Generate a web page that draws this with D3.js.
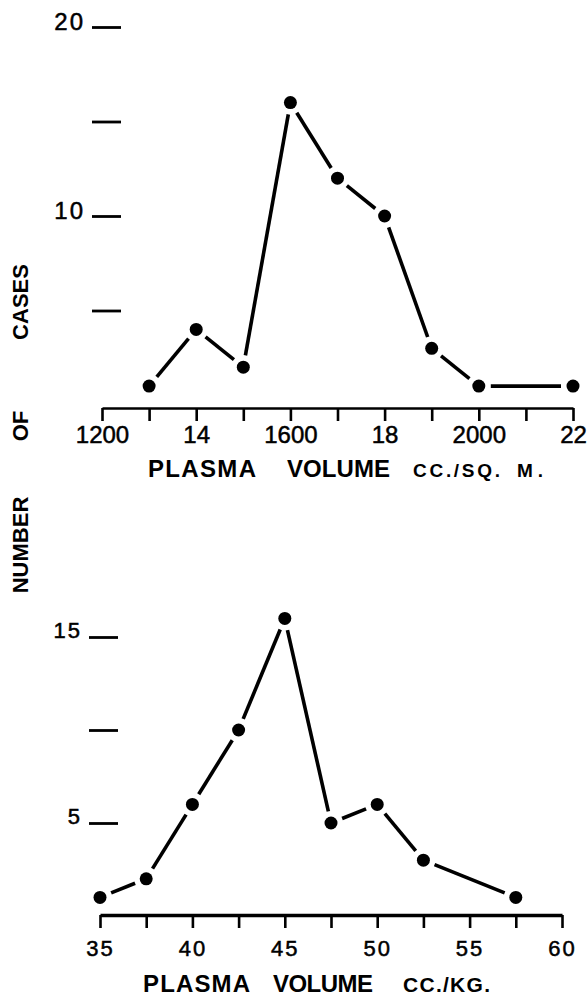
<!DOCTYPE html>
<html>
<head>
<meta charset="utf-8">
<script src="https://cdn.jsdelivr.net/npm/d3@7"></script>
<style>
  html, body { margin: 0; padding: 0; background: #fff; }
  svg { display: block; }
  text { font-family: "Liberation Sans", Arial, sans-serif; fill: #000; }
</style>
</head>
<body>
<svg id="chart" width="588" height="1002"></svg>
<script>
// ---------- DATA ----------
// Upper panel: plasma volume, cc./sq. m.
const topXValues = [1300, 1400, 1500, 1600, 1700, 1800, 1900, 2000, 2200];
const topCases   = [1, 4, 2, 16, 12, 10, 3, 1, 1];
const topXTickValues = [1200, 1300, 1400, 1500, 1600, 1700, 1800, 1900, 2000, 2100, 2200];
const topXTickLabels = ["1200", "", "14", "", "1600", "", "18", "", "2000", "", "22"];
const topYTickValues = [5, 10, 15, 20];
const topYTickLabels = ["", "10", "", "20"];

// Lower panel: plasma volume, cc./kg.
const botXValues = [35, 37.5, 40, 42.5, 45, 47.5, 50, 52.5, 57.5];
const botCases   = [1, 2, 6, 10, 16, 5, 6, 3, 1];
const botXTickValues = [35, 37.5, 40, 42.5, 45, 47.5, 50, 52.5, 55, 57.5, 60];
const botXTickLabels = ["35", "", "40", "", "45", "", "50", "", "55", "", "60"];
const botYTickValues = [5, 10, 15];
const botYTickLabels = ["5", "", "15"];

const yTitleWords = ["CASES", "OF", "NUMBER"];

// ---------- DRAWING ----------
const svg = d3.select("#chart");

function panel(cfg) {
  const x = d3.scaleLinear().domain(cfg.xDomain).range(cfg.xRange);
  const y = d3.scaleLinear().domain(cfg.yDomain).range(cfg.yRange);
  const g = svg.append("g");

  // x axis
  const xa = g.append("g")
    .attr("transform", `translate(0,${cfg.axisY})`)
    .call(d3.axisBottom(x)
      .tickValues(cfg.xTicks)
      .tickSizeInner(13)
      .tickSizeOuter(0)
      .tickPadding(cfg.xPad)
      .tickFormat((d, i) => cfg.xLabels[i]));
  xa.select(".domain").attr("stroke", "#000").attr("stroke-width", cfg.domainW);
  xa.selectAll(".tick line").attr("stroke", "#000").attr("stroke-width", 2.6);
  xa.selectAll(".tick text")
    .attr("font-size", cfg.xFont)
    .attr("letter-spacing", cfg.xLS)
    .attr("stroke", "#000").attr("stroke-width", 0.5)
    .attr("fill", "#000");

  // y axis (tick marks only, no spine)
  const ya = g.append("g")
    .attr("transform", `translate(${cfg.yAxisX},0)`)
    .call(d3.axisLeft(y)
      .tickValues(cfg.yTicks)
      .tickSizeInner(29)
      .tickSizeOuter(0)
      .tickPadding(7)
      .tickFormat((d, i) => cfg.yLabels[i]));
  ya.select(".domain").remove();
  ya.selectAll(".tick line").attr("stroke", "#000").attr("stroke-width", 2.8);
  ya.selectAll(".tick text")
    .attr("font-size", cfg.yFont)
    .attr("letter-spacing", 2)
    .attr("dy", 0)
    .attr("y", cfg.yLabelShift)
    .attr("stroke", "#000").attr("stroke-width", 0.5)
    .attr("fill", "#000");

  // line segments with small gaps near the dots
  const pts = cfg.xs.map((v, i) => [x(v), y(cfg.ys[i])]);
  const gap = 12;
  const segs = d3.pairs(pts).map(([a, b]) => {
    const dx = b[0] - a[0], dy = b[1] - a[1];
    const len = Math.hypot(dx, dy);
    const ux = dx / len, uy = dy / len;
    return [a[0] + ux * gap, a[1] + uy * gap, b[0] - ux * gap, b[1] - uy * gap];
  });
  g.selectAll("line.seg").data(segs).join("line")
    .attr("class", "seg")
    .attr("x1", d => d[0]).attr("y1", d => d[1])
    .attr("x2", d => d[2]).attr("y2", d => d[3])
    .attr("stroke", "#000").attr("stroke-width", 3.6);

  g.selectAll("circle.pt").data(pts).join("circle")
    .attr("class", "pt")
    .attr("cx", d => d[0]).attr("cy", d => d[1])
    .attr("r", 6.5).attr("fill", "#000");

  // x title pieces
  cfg.title.forEach(t => {
    g.append("text")
      .attr("x", t.x).attr("y", cfg.titleY)
      .attr("font-size", t.size)
      .attr("font-weight", "bold")
      .attr("textLength", t.w)
      .attr("lengthAdjust", "spacing")
      .text(t.s);
  });
}

panel({
  xDomain: [1200, 2200], xRange: [102, 573],
  yDomain: [0, 20], yRange: [405, 27],
  axisY: 408, domainW: 2.6, xPad: 5, xFont: 24, xLS: 0,
  xTicks: topXTickValues, xLabels: topXTickLabels,
  yAxisX: 121, yTicks: topYTickValues, yLabels: topYTickLabels, yFont: 24, yLabelShift: 2,
  xs: topXValues, ys: topCases,
  titleY: 477,
  title: [
    {s: "PLASMA", x: 148, w: 108, size: 24},
    {s: "VOLUME", x: 287, w: 103, size: 24},
    {s: "CC./SQ.", x: 413, w: 87, size: 19},
    {s: "M.", x: 517, w: 26, size: 19}
  ]
});

panel({
  xDomain: [35, 60], xRange: [100, 562],
  yDomain: [0, 15], yRange: [916, 637],
  axisY: 915, domainW: 3.4, xPad: 12, xFont: 22, xLS: 2,
  xTicks: botXTickValues, xLabels: botXTickLabels,
  yAxisX: 118, yTicks: botYTickValues, yLabels: botYTickLabels, yFont: 22, yLabelShift: 0,
  xs: botXValues, ys: botCases,
  titleY: 992,
  title: [
    {s: "PLASMA", x: 143, w: 107, size: 24},
    {s: "VOLUME", x: 273, w: 100, size: 24},
    {s: "CC./KG.", x: 403, w: 87, size: 21}
  ]
});

// shared y-axis title (rotated)
const yTitleCenters = [302, 426, 545];
yTitleWords.forEach((w, i) => {
  svg.append("text")
    .attr("transform", `translate(28,${yTitleCenters[i]}) rotate(-90)`)
    .attr("text-anchor", "middle")
    .attr("font-size", 22)
    .attr("font-weight", "bold")
    .text(w);
});
</script>
</body>
</html>
